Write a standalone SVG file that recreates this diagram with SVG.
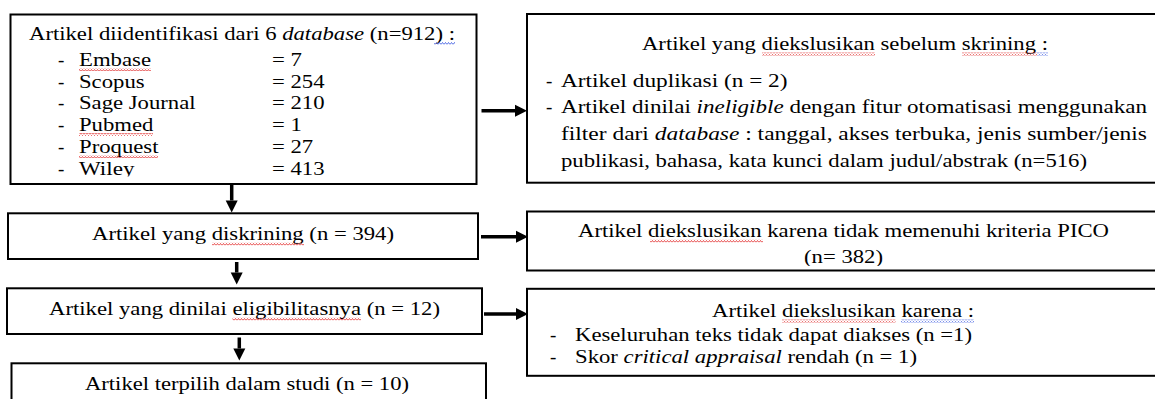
<svg xmlns="http://www.w3.org/2000/svg" width="1155" height="399" viewBox="0 0 1155 399">
<style>
.box{fill:#fff;stroke:#000;stroke-width:2}
.t{font-family:"Liberation Serif","Times New Roman",serif;font-size:19px;fill:#000}
.i{font-style:italic}
.c{text-anchor:middle}
.arr{fill:none;stroke:#000;stroke-width:3.5}
.red{fill:url(#wavR)}
.blue{fill:url(#wavB)}
</style>
<defs>
<marker id="ah" markerUnits="userSpaceOnUse" markerWidth="12" markerHeight="12" refX="0" refY="6" orient="auto" overflow="visible">
<path d="M0,0 L12,6 L0,12 Z" fill="#000"/>
</marker>
<pattern id="wavR" patternUnits="userSpaceOnUse" width="3" height="3">
<path d="M0,2.5 L1.5,0.5 L3,2.5" fill="none" stroke="#e02020" stroke-width="0.8"/>
</pattern>
<pattern id="wavB" patternUnits="userSpaceOnUse" width="3" height="3">
<path d="M0,2.5 L1.5,0.5 L3,2.5" fill="none" stroke="#3050e0" stroke-width="0.8"/>
</pattern>
<clipPath id="clipWiley"><rect x="0" y="150" width="480" height="26.5"/></clipPath>
<clipPath id="clipPico"><rect x="527" y="240" width="640" height="26"/></clipPath>
</defs>
<rect width="1155" height="399" fill="#fff"/>

<g id="identified">
<rect class="box" x="10.5" y="14.5" width="466" height="169.5"/>
<text class="t" x="29" y="40" textLength="426" lengthAdjust="spacingAndGlyphs">Artikel diidentifikasi dari 6 <tspan class="i">database</tspan> (n=912) :</text>
<rect class="blue" x="434" y="42" width="21" height="3"/>
<text class="t" x="58" y="66">-</text><text class="t" x="79" y="66" textLength="72" lengthAdjust="spacingAndGlyphs">Embase</text><text class="t" x="272" y="66" textLength="30" lengthAdjust="spacingAndGlyphs">= 7</text>
<rect class="red" x="79" y="68" width="72" height="3"/>
<text class="t" x="58" y="87.5">-</text><text class="t" x="79" y="87.5" textLength="65.6" lengthAdjust="spacingAndGlyphs">Scopus</text><text class="t" x="272" y="87.5" textLength="52.5" lengthAdjust="spacingAndGlyphs">= 254</text>
<text class="t" x="58" y="109">-</text><text class="t" x="79" y="109" textLength="116.6" lengthAdjust="spacingAndGlyphs">Sage Journal</text><text class="t" x="272" y="109" textLength="52.5" lengthAdjust="spacingAndGlyphs">= 210</text>
<text class="t" x="58" y="131">-</text><text class="t" x="79" y="131" textLength="74.4" lengthAdjust="spacingAndGlyphs">Pubmed</text><text class="t" x="272" y="131" textLength="29.8" lengthAdjust="spacingAndGlyphs">= 1</text>
<rect class="red" x="79" y="133" width="74" height="3"/>
<text class="t" x="58" y="152.5">-</text><text class="t" x="79" y="152.5" textLength="79.5" lengthAdjust="spacingAndGlyphs">Proquest</text><text class="t" x="272" y="152.5" textLength="41.2" lengthAdjust="spacingAndGlyphs">= 27</text>
<rect class="red" x="79" y="155" width="79" height="3"/>
<g clip-path="url(#clipWiley)">
<text class="t" x="58" y="174.5">-</text><text class="t" x="79" y="174.5" textLength="55.5" lengthAdjust="spacingAndGlyphs">Wiley</text><text class="t" x="272" y="174.5" textLength="52.5" lengthAdjust="spacingAndGlyphs">= 413</text>
</g>
</g>

<g id="excluded-before">
<rect class="box" x="527" y="14" width="640" height="168.7"/>
<text class="t" x="642" y="50" textLength="406" lengthAdjust="spacingAndGlyphs">Artikel yang diekslusikan sebelum skrining :</text>
<rect class="red" x="762" y="52.5" width="113" height="3"/>
<rect class="red" x="962" y="52.5" width="75" height="3"/>
<rect class="blue" x="1037" y="52.5" width="11" height="3"/>
<text class="t" x="546" y="87">-</text>
<text class="t" x="561" y="87" textLength="226.5" lengthAdjust="spacingAndGlyphs">Artikel duplikasi  (n = 2)</text>
<text class="t" x="546" y="113">-</text>
<text class="t" x="561" y="113" textLength="586" lengthAdjust="spacingAndGlyphs">Artikel dinilai <tspan class="i">ineligible</tspan> dengan fitur otomatisasi menggunakan</text>
<text class="t" x="561" y="140" textLength="586" lengthAdjust="spacingAndGlyphs">filter dari <tspan class="i">database</tspan> : tanggal, akses terbuka, jenis sumber/jenis</text>
<text class="t" x="561" y="167" textLength="526" lengthAdjust="spacingAndGlyphs">publikasi, bahasa, kata kunci dalam judul/abstrak (n=516)</text>
</g>

<g id="screened">
<rect class="box" x="8" y="213.3" width="470" height="45.7"/>
<text class="t" x="92" y="240" textLength="302" lengthAdjust="spacingAndGlyphs">Artikel yang diskrining (n = 394)</text>
<rect class="red" x="212" y="242.5" width="92" height="3"/>
</g>

<g id="excluded-pico">
<rect class="box" x="527" y="211.5" width="640" height="59"/>
<text class="t" x="578" y="237" textLength="531" lengthAdjust="spacingAndGlyphs">Artikel diekslusikan karena tidak memenuhi kriteria PICO</text>
<rect class="red" x="650" y="239.5" width="113" height="3"/>
<g clip-path="url(#clipPico)">
<text class="t" x="804" y="263" textLength="79" lengthAdjust="spacingAndGlyphs">(n= 382)</text>
</g>
</g>

<g id="eligibility">
<rect class="box" x="7" y="288.3" width="475" height="45.7"/>
<text class="t" x="49" y="315" textLength="391" lengthAdjust="spacingAndGlyphs">Artikel yang dinilai eligibilitasnya (n = 12)</text>
<rect class="red" x="232.5" y="317.5" width="128.5" height="3"/>
</g>

<g id="excluded-full">
<rect class="box" x="527" y="288.8" width="640" height="87"/>
<text class="t" x="712" y="317" textLength="262" lengthAdjust="spacingAndGlyphs">Artikel diekslusikan karena :</text>
<rect class="red" x="782" y="319.5" width="113.5" height="3"/>
<rect class="blue" x="901" y="319.5" width="73" height="3"/>
<text class="t" x="550" y="341">-</text>
<text class="t" x="575" y="341" textLength="397" lengthAdjust="spacingAndGlyphs">Keseluruhan teks tidak dapat diakses (n =1)</text>
<text class="t" x="550" y="363">-</text>
<text class="t" x="575" y="363" textLength="342" lengthAdjust="spacingAndGlyphs">Skor <tspan class="i">critical appraisal</tspan> rendah (n = 1)</text>
</g>

<g id="included">
<rect class="box" x="11.5" y="363.3" width="474.5" height="50"/>
<text class="t" x="85" y="390" textLength="324" lengthAdjust="spacingAndGlyphs">Artikel terpilih dalam studi (n = 10)</text>
</g>

<g id="connectors">
<path class="arr" d="M481.5,110.7 H515" marker-end="url(#ah)"/>
<path class="arr" d="M481,236.7 H516" marker-end="url(#ah)"/>
<path class="arr" d="M484,314 H516" marker-end="url(#ah)"/>
<path class="arr" d="M231.7,184 V200.5" marker-end="url(#ah)"/>
<path class="arr" d="M236.7,262 V272.5" marker-end="url(#ah)"/>
<path class="arr" d="M239.3,337.5 V348.5" marker-end="url(#ah)"/>
</g>
</svg>
